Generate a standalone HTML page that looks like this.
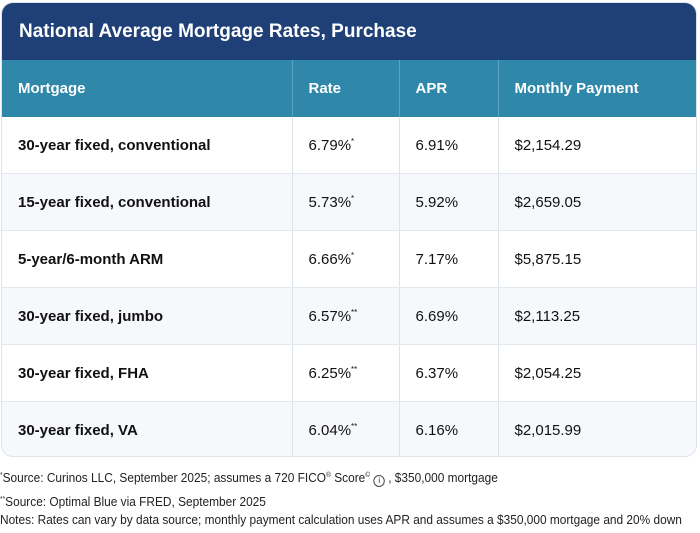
<!DOCTYPE html>
<html><head><meta charset="utf-8"><style>
body{margin:0;width:700px;height:533px;background:#fff;font-family:"Liberation Sans",sans-serif;position:relative;overflow:hidden}
.card{position:absolute;left:1px;top:2px;width:696px;height:455px;border:1px solid #dde3ea;border-radius:12px;overflow:hidden;box-sizing:border-box}
.title{height:57px;background:#1f3f77;color:#fff;font-weight:bold;font-size:19px;line-height:57px;padding-left:17px}
table{border-collapse:collapse;width:100%;table-layout:fixed}
td,th{height:56px;padding:0 0 0 16px;text-align:left;border-left:1px solid #dde3ea;border-bottom:1px solid #e3e8ee;font-size:15px;color:#111}
th{height:57px;background:#2f87aa;color:#fff;font-weight:bold;border-left:1px solid #5aa3c2;border-bottom:none}
td:first-child,th:first-child{border-left:none;font-weight:bold}
sup{font-size:8px;vertical-align:6px}
.f{position:absolute;left:0;font-size:12.5px;color:#222;white-space:nowrap;transform:scaleX(0.95);transform-origin:0 0}
.f sup{font-size:7px;vertical-align:5px}
.a td{background:#fff}.b td{background:#f6f8fb}
</style></head><body>
<div class="card">
<div class="title">National Average Mortgage Rates, Purchase</div>
<table>
<colgroup><col style="width:290px"><col style="width:107px"><col style="width:99px"><col></colgroup>
<tr><th>Mortgage</th><th>Rate</th><th>APR</th><th>Monthly Payment</th></tr>
<tr class="a"><td>30-year fixed, conventional</td><td>6.79%<sup>*</sup></td><td>6.91%</td><td>$2,154.29</td></tr>
<tr class="b"><td>15-year fixed, conventional</td><td>5.73%<sup>*</sup></td><td>5.92%</td><td>$2,659.05</td></tr>
<tr class="a"><td>5-year/6-month ARM</td><td>6.66%<sup>*</sup></td><td>7.17%</td><td>$5,875.15</td></tr>
<tr class="b"><td>30-year fixed, jumbo</td><td>6.57%<sup>**</sup></td><td>6.69%</td><td>$2,113.25</td></tr>
<tr class="a"><td>30-year fixed, FHA</td><td>6.25%<sup>**</sup></td><td>6.37%</td><td>$2,054.25</td></tr>
<tr class="b"><td style="border-bottom:none">30-year fixed, VA</td><td style="border-bottom:none">6.04%<sup>**</sup></td><td style="border-bottom:none">6.16%</td><td style="border-bottom:none">$2,015.99</td></tr>
</table>
</div>
<div class="f" style="top:471px"><sup>*</sup>Source: Curinos LLC, September 2025; assumes a 720 FICO<sup>®</sup> Score<sup>©</sup> <span style="display:inline-block;width:10px;height:10px;border:1px solid #444;border-radius:50%;font-size:8px;line-height:10px;text-align:center;vertical-align:-1px">i</span> , $350,000 mortgage</div>
<div class="f" style="top:495px"><sup>**</sup>Source: Optimal Blue via FRED, September 2025</div>
<div class="f" style="top:513px">Notes: Rates can vary by data source; monthly payment calculation uses APR and assumes a $350,000 mortgage and 20% down</div>
</body></html>
